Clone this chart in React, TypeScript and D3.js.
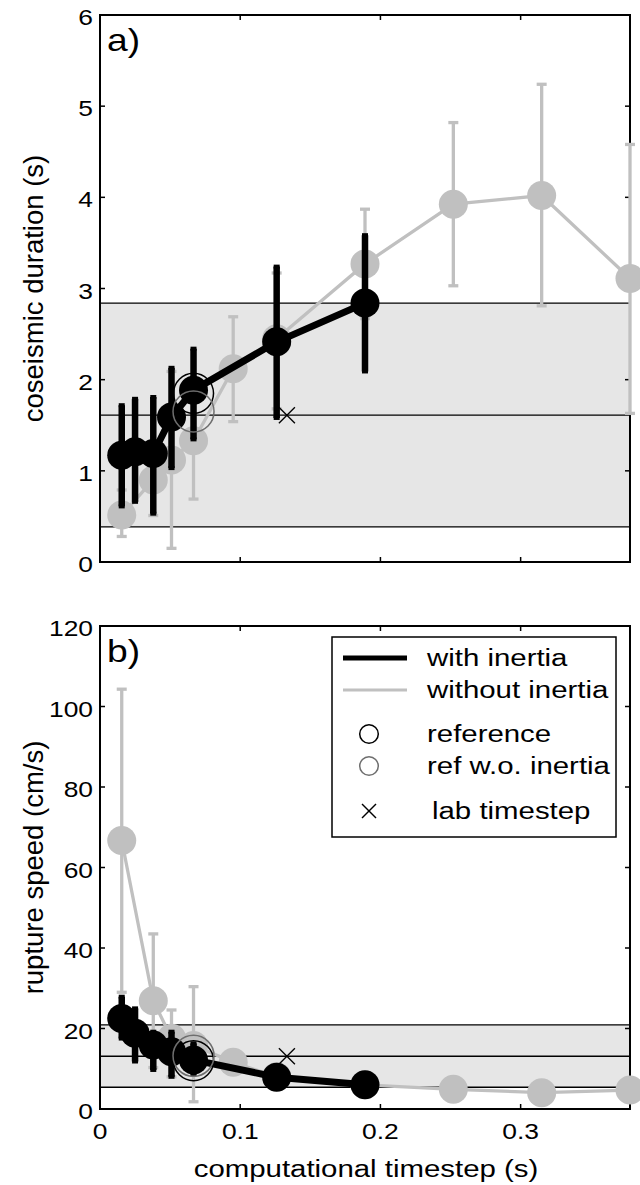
import React from "react";
import * as d3 from "d3";

// Computational timesteps (s)
const dtInertia = [0.0155, 0.025, 0.038, 0.051, 0.0667, 0.126, 0.189];
const dtNoInertia = [0.0155, 0.038, 0.051, 0.0667, 0.095, 0.126, 0.189, 0.252, 0.315, 0.378];

// a) coseismic duration (s)
const durInertia = [1.17, 1.21, 1.19, 1.59, 1.885, 2.415, 2.84];
const durInertiaLo = [0.61, 0.66, 0.53, 1.03, 1.345, 1.58, 2.09];
const durInertiaHi = [1.72, 1.79, 1.81, 2.13, 2.34, 3.24, 3.585];
const durNoInertia = [0.515, 0.9, 1.12, 1.33, 2.12, 2.45, 3.27, 3.925, 4.02, 3.11];
const durNoInertiaLo = [0.28, 0.51, 0.15, 0.69, 1.54, 1.68, 2.67, 3.03, 2.81, 1.63];
const durNoInertiaHi = [0.79, 1.29, 2.09, 1.97, 2.69, 3.17, 3.87, 4.82, 5.24, 4.58];

// b) rupture speed (cm/s)
const speedInertia = [22.5, 18.8, 15.9, 14.2, 12.2, 7.9, 6.0];
const speedInertiaLo = [17.5, 11.8, 9.7, 8.0, 8.6, 6.3, 4.8];
const speedInertiaHi = [27.9, 25.0, 19.2, 19.2, 16.3, 9.6, 7.2];
const speedNoInertia = [66.7, 26.9, 17.6, 15.8, 11.6, 8.0, 6.0, 4.9, 4.05, 4.7];
const speedNoInertiaLo = [29.0, 10.3, 8.0, 1.8, 9.0, 6.5, 5.0, 3.8, 3.2, 3.9];
const speedNoInertiaHi = [104.3, 43.5, 24.6, 30.4, 14.2, 9.5, 7.0, 6.0, 4.9, 5.5];

// Reference runs and the laboratory values (band: low, mean, high)
const refDt = 0.0667;
const refDur = 1.85;
const refDurNoInertia = 1.65;
const refSpeed = 12.0;
const refSpeedNoInertia = 13.2;
const labDt = 0.1333;
const durBand = [0.385, 1.61, 2.84];
const speedBand = [5.4, 13.1, 20.9];

// Axis ticks
const xTicks = [0, 0.1, 0.2, 0.3];
const xTickLabels = ["0", "0.1", "0.2", "0.3"];
const durTicks = [0, 1, 2, 3, 4, 5, 6];
const speedTicks = [0, 20, 40, 60, 80, 100, 120];

const legendItems = ["with inertia", "without inertia", "reference", "ref w.o. inertia", "lab timestep"];

const FONT = "'Liberation Sans', Arial, Helvetica, sans-serif";
const SX = 1.2;
const GRAY = "#c0c0c0";
const RING_GRAY = "#6e6e6e";

function Txt({ x, y, size, anchor = "start", children }: any) {
  return (
    <text transform={`translate(${x},${y}) scale(${SX},1)`} fontFamily={FONT} fontSize={size} textAnchor={anchor} fill="#000">
      {children}
    </text>
  );
}

function VTxt({ x, y, size, children }: any) {
  return (
    <text transform={`translate(${x},${y}) rotate(-90)`} fontFamily={FONT} fontSize={size} textAnchor="middle" fill="#000">
      {children}
    </text>
  );
}

function Cross({ cx, cy, h = 8 }: any) {
  return (
    <g stroke="#000" strokeWidth={1.4}>
      <line x1={cx - h} y1={cy - h} x2={cx + h} y2={cy + h} />
      <line x1={cx - h} y1={cy + h} x2={cx + h} y2={cy - h} />
    </g>
  );
}

function Panel({ y, yTicks, gx, gy, gLo, gHi, bx, by, bLo, bHi, band, refB, refG, label, yLabel, showXLabels }: any) {
  const x = d3.scaleLinear().domain([0, 0.378]).range([100, 630]);
  const [x0, x1] = x.range();
  const [yb, yt] = y.range();
  const gPath = d3.line<number>().x((d, i) => x(gx[i])).y((d) => y(d))(gy) as string;
  const bPath = d3.line<number>().x((d, i) => x(bx[i])).y((d) => y(d))(by) as string;
  const tl = 5;
  return (
    <g>
      {/* observed range band */}
      <rect x={x0} y={y(band[2])} width={x1 - x0} height={y(band[0]) - y(band[2])} fill="#e6e6e6" />
      {band.map((v: number, i: number) => (
        <line key={i} x1={x0} x2={x1} y1={y(v)} y2={y(v)} stroke="#000" strokeWidth={1.3} />
      ))}
      {/* axes box and inward ticks */}
      <rect x={x0} y={yt} width={x1 - x0} height={yb - yt} fill="none" stroke="#000" strokeWidth={2} />
      {xTicks.map((t, i) => (
        <g key={i} stroke="#000" strokeWidth={1.5}>
          <line x1={x(t)} x2={x(t)} y1={yb} y2={yb - tl} />
          <line x1={x(t)} x2={x(t)} y1={yt} y2={yt + tl} />
        </g>
      ))}
      {yTicks.map((t: number, i: number) => (
        <g key={i} stroke="#000" strokeWidth={1.5}>
          <line x1={x0} x2={x0 + tl} y1={y(t)} y2={y(t)} />
          <line x1={x1} x2={x1 - tl} y1={y(t)} y2={y(t)} />
        </g>
      ))}
      {yTicks.map((t: number, i: number) => (
        <Txt key={i} x={93} y={y(t) + 10} size={22} anchor="end">{String(t)}</Txt>
      ))}
      {showXLabels &&
        xTicks.map((t, i) => (
          <Txt key={i} x={x(t)} y={yb + 30} size={22} anchor="middle">{xTickLabels[i]}</Txt>
        ))}
      <VTxt x={43} y={(yt + yb) / 2} size={27.5}>{yLabel}</VTxt>
      <Txt x={107} y={yt + 36} size={31}>{label}</Txt>

      {/* without inertia */}
      <g stroke={GRAY} strokeWidth={3.3}>
        {gx.map((d: number, i: number) => (
          <g key={i}>
            <line x1={x(d)} x2={x(d)} y1={y(gLo[i])} y2={y(gHi[i])} />
            <line x1={x(d) - 5} x2={x(d) + 5} y1={y(gLo[i])} y2={y(gLo[i])} />
            <line x1={x(d) - 5} x2={x(d) + 5} y1={y(gHi[i])} y2={y(gHi[i])} />
          </g>
        ))}
      </g>
      <path d={gPath} fill="none" stroke={GRAY} strokeWidth={3.3} />
      {gx.map((d: number, i: number) => (
        <circle key={i} cx={x(d)} cy={y(gy[i])} r={14.5} fill={GRAY} />
      ))}

      {/* with inertia */}
      <g stroke="#000" strokeWidth={6.5}>
        {bx.map((d: number, i: number) => (
          <g key={i}>
            <line x1={x(d)} x2={x(d)} y1={y(bLo[i])} y2={y(bHi[i])} />
            <line x1={x(d) - 3} x2={x(d) + 3} y1={y(bLo[i])} y2={y(bLo[i])} strokeWidth={4} />
            <line x1={x(d) - 3} x2={x(d) + 3} y1={y(bHi[i])} y2={y(bHi[i])} strokeWidth={4} />
          </g>
        ))}
      </g>
      <path d={bPath} fill="none" stroke="#000" strokeWidth={7} strokeLinejoin="round" />
      {bx.map((d: number, i: number) => (
        <circle key={i} cx={x(d)} cy={y(by[i])} r={14.5} fill="#000" />
      ))}

      {/* reference runs and laboratory timestep */}
      <circle cx={x(refDt)} cy={y(refB)} r={20} fill="none" stroke="#000" strokeWidth={1.5} />
      <circle cx={x(refDt)} cy={y(refG)} r={20.5} fill="none" stroke={RING_GRAY} strokeWidth={1.5} />
      <Cross cx={x(labDt)} cy={y(band[1])} />
    </g>
  );
}

function Legend() {
  const bx = 332, by = 637, bw = 284, bh = 200;
  const sx = 369;
  const tx = 427;
  const rows = [658, 690, 734, 766, 811];
  return (
    <g>
      <rect x={bx} y={by} width={bw} height={bh} fill="#fff" stroke="#000" strokeWidth={1.5} />
      <line x1={343} x2={407} y1={rows[0]} y2={rows[0]} stroke="#000" strokeWidth={5} />
      <line x1={343} x2={407} y1={rows[1]} y2={rows[1]} stroke={GRAY} strokeWidth={3} />
      <circle cx={sx} cy={rows[2]} r={9.3} fill="none" stroke="#000" strokeWidth={1.5} />
      <circle cx={sx} cy={rows[3]} r={9.3} fill="none" stroke={RING_GRAY} strokeWidth={1.5} />
      <Cross cx={sx} cy={rows[4]} h={7} />
      {legendItems.map((s, i) => (
        <Txt key={i} x={i === 4 ? 432 : tx} y={rows[i] + 8} size={24.5}>{s}</Txt>
      ))}
    </g>
  );
}

export default function App() {
  const yA = d3.scaleLinear().domain([0, 6]).range([562, 15]);
  const yB = d3.scaleLinear().domain([0, 120]).range([1109, 626]);
  return (
    <svg width={640} height={1185} style={{ position: "absolute", left: 0, top: 0, background: "#fff" }}>
      <rect width={640} height={1185} fill="#fff" />
      <Panel
        y={yA} yTicks={durTicks}
        gx={dtNoInertia} gy={durNoInertia} gLo={durNoInertiaLo} gHi={durNoInertiaHi}
        bx={dtInertia} by={durInertia} bLo={durInertiaLo} bHi={durInertiaHi}
        band={durBand} refB={refDur} refG={refDurNoInertia}
        label="a)" yLabel="coseismic duration (s)" showXLabels={false}
      />
      <Panel
        y={yB} yTicks={speedTicks}
        gx={dtNoInertia} gy={speedNoInertia} gLo={speedNoInertiaLo} gHi={speedNoInertiaHi}
        bx={dtInertia} by={speedInertia} bLo={speedInertiaLo} bHi={speedInertiaHi}
        band={speedBand} refB={refSpeed} refG={refSpeedNoInertia}
        label="b)" yLabel="rupture speed (cm/s)" showXLabels={true}
      />
      <Legend />
      <Txt x={366} y={1177} size={24.5} anchor="middle">computational timestep (s)</Txt>
    </svg>
  );
}
